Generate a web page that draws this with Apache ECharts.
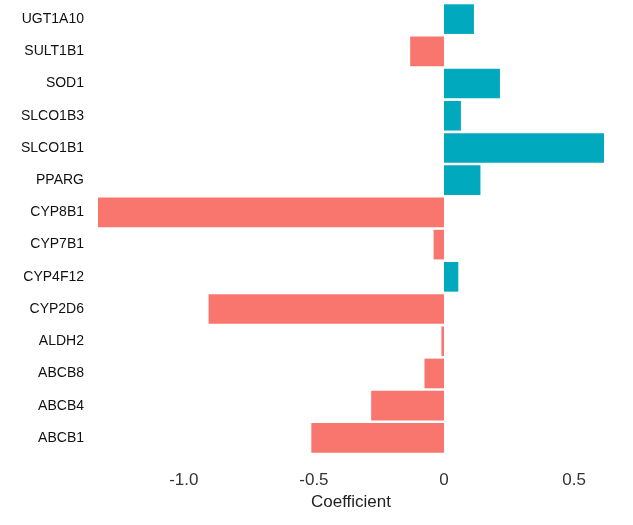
<!DOCTYPE html>
<html><head><meta charset="utf-8">
<script src="https://cdn.jsdelivr.net/npm/echarts@6/dist/echarts.min.js"></script>
<style>html,body{margin:0;background:#fff}#c{width:633px;height:525px}</style>
</head><body><div id="c"></div>
<script>
// genes listed bottom to top
var genes = ['ABCB1','ABCB4','ABCB8','ALDH2','CYP2D6','CYP4F12','CYP7B1','CYP8B1','PPARG','SLCO1B1','SLCO1B3','SOD1','SULT1B1','UGT1A10'];
var coefs = [-0.51,-0.28,-0.075,-0.01,-0.905,0.055,-0.04,-1.33,0.14,0.615,0.065,0.215,-0.13,0.115];
var posColor = '#00A9BE', negColor = '#F8766D';

var chart = echarts.init(document.getElementById('c'));
chart.setOption({
  backgroundColor:'#fff',
  animation:false,
  grid:{left:98,right:29,top:3,bottom:71},
  xAxis:{
    type:'value', min:-1.33, max:0.615, splitNumber:4,
    name:'Coefficient', nameLocation:'middle', nameGap:40,
    nameTextStyle:{fontSize:17,color:'#222',fontFamily:'Liberation Sans'},
    axisLine:{show:false}, axisTick:{show:false}, splitLine:{show:false},
    axisLabel:{showMinLabel:false,showMaxLabel:false,fontSize:17,color:'#333',fontFamily:'Liberation Sans',margin:18,
      formatter:function(v){return v===0?'0':v.toFixed(1);}}
  },
  yAxis:{
    type:'category', data:genes,
    axisLine:{show:false}, axisTick:{show:false},
    axisLabel:{fontSize:14,color:'#111',fontFamily:'Liberation Sans',margin:14}
  },
  series:[{
    type:'bar', barCategoryGap:'8%',
    data:coefs.map(function(v){return {value:v,itemStyle:{color:v>=0?posColor:negColor}};})
  }]
});
</script></body></html>
